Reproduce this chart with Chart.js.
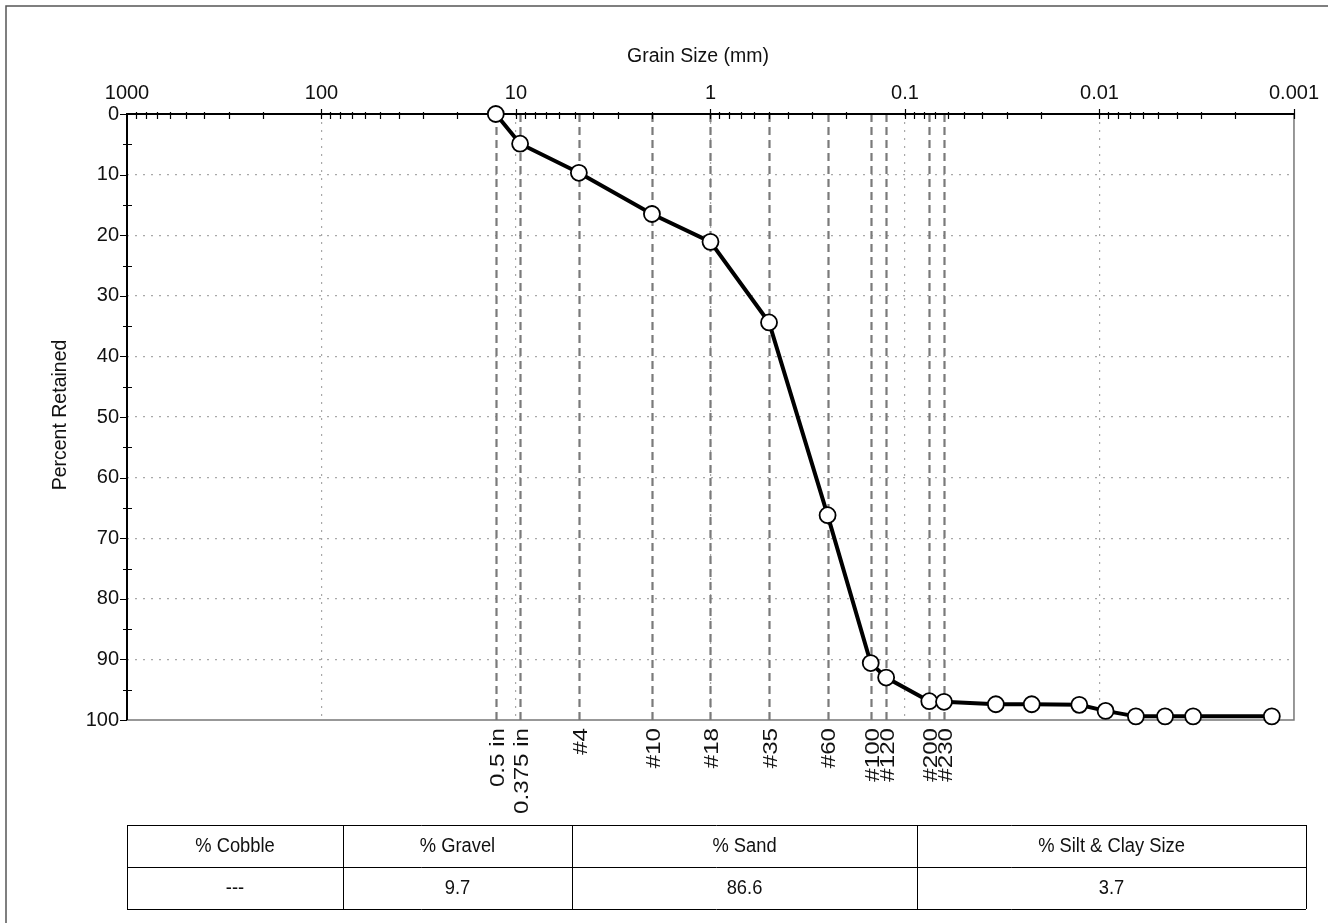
<!DOCTYPE html>
<html>
<head>
<meta charset="utf-8">
<script src="https://cdn.jsdelivr.net/npm/chart.js@4.4.1/dist/chart.umd.min.js"></script>
<style>
  html, body { margin: 0; padding: 0; background: #ffffff; }
  #wrap { position: relative; width: 1328px; height: 923px; }
</style>
</head>
<body>
<div id="wrap"><canvas id="grad" width="1328" height="923"></canvas></div>
<script>
// Grain size distribution: cumulative percent retained vs particle size (mm)
const grainSizes = [12.7, 9.525, 4.75, 2.0, 1.0, 0.5, 0.25, 0.15, 0.125, 0.075, 0.063,
                    0.0341, 0.0223, 0.0127, 0.0093, 0.0065, 0.0046, 0.0033, 0.0013];
const percentRetained = [0, 4.9, 9.7, 16.5, 21.1, 34.4, 66.2, 90.6, 93.0, 96.9, 97.0,
                         97.4, 97.4, 97.5, 98.5, 99.4, 99.4, 99.4, 99.4];

// Sieve openings marked with dashed lines
const sieveLabels = ['0.5 in', '0.375 in', '#4', '#10', '#18', '#35', '#60', '#100', '#120', '#200', '#230'];
const sieveSizes  = [12.7, 9.525, 4.75, 2.0, 1.0, 0.5, 0.25, 0.15, 0.125, 0.075, 0.063];

// Axis ticks
const xTickValues = [1000, 100, 10, 1, 0.1, 0.01, 0.001];
const xTickLabels = ['1000', '100', '10', '1', '0.1', '0.01', '0.001'];
const yTickValues = [0, 10, 20, 30, 40, 50, 60, 70, 80, 90, 100];

// Summary table
const fractionNames  = ['% Cobble', '% Gravel', '% Sand', '% Silt & Clay Size'];
const fractionValues = ['---', '9.7', '86.6', '3.7'];

const FONT = '"Liberation Sans", Arial, Helvetica, sans-serif';
const TXT = '#111111';

const points = grainSizes.map((s, i) => ({ x: s, y: percentRetained[i] }));

const decorations = {
  id: 'decorations',
  beforeDatasetsDraw(chart) {
    const { ctx, chartArea: a, scales: { x, y } } = chart;
    ctx.save();

    // sieve lines
    ctx.strokeStyle = '#7a7a7a';
    ctx.lineWidth = 2.2;
    ctx.setLineDash([8, 5]);
    sieveSizes.forEach(s => {
      const px = Math.round(x.getPixelForValue(s)) + 0.5;
      ctx.beginPath();
      ctx.moveTo(px, a.top);
      ctx.lineTo(px, a.bottom);
      ctx.stroke();
    });
    ctx.setLineDash([]);

    // plot frame: right and bottom in grey
    ctx.strokeStyle = '#777777';
    ctx.lineWidth = 1.5;
    ctx.beginPath();
    ctx.moveTo(a.right, a.top);
    ctx.lineTo(a.right, a.bottom);
    ctx.lineTo(a.left, a.bottom);
    ctx.stroke();

    // top and left axis lines
    ctx.strokeStyle = '#000000';
    ctx.lineWidth = 2;
    ctx.beginPath();
    ctx.moveTo(a.left, a.bottom);
    ctx.lineTo(a.left, a.top);
    ctx.lineTo(a.right, a.top);
    ctx.stroke();

    // log ticks on the top axis
    ctx.lineWidth = 1.2;
    ctx.beginPath();
    for (let e = -3; e < 3; e++) {
      for (let m = 1; m <= 9; m++) {
        const v = m * Math.pow(10, e);
        const px = Math.round(x.getPixelForValue(v)) + 0.5;
        if (m === 1) { ctx.moveTo(px, a.top - 5); ctx.lineTo(px, a.top + 5); }
        else { ctx.moveTo(px, a.top - 2); ctx.lineTo(px, a.top + 5); }
      }
    }
    const pEnd = Math.round(x.getPixelForValue(0.001)) + 0.5;
    ctx.moveTo(pEnd, a.top - 5); ctx.lineTo(pEnd, a.top + 5);
    ctx.stroke();

    // ticks on the left axis
    ctx.beginPath();
    for (let v = 0; v <= 100; v += 5) {
      const py = Math.round(y.getPixelForValue(v)) + 0.5;
      if (v % 10 === 0) { ctx.moveTo(a.left - 7, py); ctx.lineTo(a.left, py); }
      else { ctx.moveTo(a.left - 4, py); ctx.lineTo(a.left + 5, py); }
    }
    ctx.stroke();
    ctx.restore();
  },
  afterDraw(chart) {
    const { ctx, chartArea: a, scales: { x } } = chart;
    ctx.save();
    ctx.fillStyle = TXT;

    // sieve labels, rotated and slightly stretched along the text
    ctx.font = '21px ' + FONT;
    ctx.textAlign = 'right';
    ctx.textBaseline = 'middle';
    sieveSizes.forEach((s, i) => {
      const px = x.getPixelForValue(s) + 2;
      ctx.save();
      ctx.translate(px, a.bottom + 8);
      ctx.rotate(-Math.PI / 2);
      ctx.scale(1.15, 1);
      ctx.fillText(sieveLabels[i], 0, 0);
      ctx.restore();
    });

    // axis titles
    ctx.font = '19.5px ' + FONT;
    ctx.textAlign = 'center';
    ctx.textBaseline = 'middle';
    ctx.fillText('Grain Size (mm)', 698, 57);
    ctx.save();
    ctx.translate(61, 415);
    ctx.rotate(-Math.PI / 2);
    ctx.fillText('Percent Retained', 0, 0);
    ctx.restore();

    // summary table
    const cols = [127, 343, 572, 917, 1306];
    const rows = [825, 867, 909];
    ctx.strokeStyle = '#000000';
    ctx.lineWidth = 1;
    ctx.beginPath();
    rows.forEach(r => { ctx.moveTo(cols[0], r + 0.5); ctx.lineTo(cols[4], r + 0.5); });
    cols.forEach(c => { ctx.moveTo(c + 0.5, rows[0]); ctx.lineTo(c + 0.5, rows[2]); });
    ctx.stroke();
    ctx.font = '19.5px ' + FONT;
    for (let i = 0; i < 4; i++) {
      const cx = (cols[i] + cols[i + 1]) / 2;
      [[fractionNames[i], (rows[0] + rows[1]) / 2 + 1], [fractionValues[i], (rows[1] + rows[2]) / 2 + 1]]
        .forEach(([t, cy]) => {
          ctx.save();
          ctx.translate(cx, cy);
          ctx.scale(0.94, 1);
          ctx.fillText(t, 0, 0);
          ctx.restore();
        });
    }

    // outer frame
    ctx.strokeStyle = '#555555';
    ctx.lineWidth = 1.5;
    ctx.strokeRect(6, 6, 1340, 940);
    ctx.restore();
  }
};

new Chart(document.getElementById('grad'), {
  type: 'line',
  data: {
    datasets: [{
      data: points,
      borderColor: '#000000',
      borderWidth: 4,
      pointRadius: 8,
      pointBackgroundColor: '#ffffff',
      pointBorderColor: '#000000',
      pointBorderWidth: 1.8,
      tension: 0,
      clip: false
    }]
  },
  options: {
    responsive: false,
    animation: false,
    events: [],
    layout: { padding: { left: 0, top: 0, right: 33, bottom: 203 } },
    plugins: { legend: { display: false }, tooltip: { enabled: false } },
    scales: {
      x: {
        type: 'logarithmic',
        position: 'top',
        reverse: true,
        min: 0.001,
        max: 1000,
        afterBuildTicks(scale) { scale.ticks = xTickValues.map(v => ({ value: v })); },
        afterFit(scale) { scale.height = 114; },
        ticks: {
          autoSkip: false,
          maxRotation: 0,
          padding: 9,
          color: TXT,
          font: { family: FONT, size: 20 },
          callback(value) {
            const i = xTickValues.findIndex(v => Math.abs(Math.log10(v) - Math.log10(value)) < 1e-6);
            return i >= 0 ? xTickLabels[i] : '';
          }
        },
        grid: {
          drawTicks: false,
          lineWidth: 1.2,
          color: ctx => (ctx.tick && (ctx.tick.value === 1000 || ctx.tick.value === 0.001)) ? 'rgba(0,0,0,0)' : '#a8a8a8'
        },
        border: { display: false, dash: [2, 6] }
      },
      y: {
        type: 'linear',
        reverse: true,
        min: 0,
        max: 100,
        afterBuildTicks(scale) { scale.ticks = yTickValues.map(v => ({ value: v })); },
        afterFit(scale) { scale.width = 127; },
        ticks: {
          padding: 8,
          color: TXT,
          font: { family: FONT, size: 20 }
        },
        grid: {
          drawTicks: false,
          lineWidth: 1.2,
          color: ctx => (ctx.tick && (ctx.tick.value === 0 || ctx.tick.value === 100)) ? 'rgba(0,0,0,0)' : '#a8a8a8'
        },
        border: { display: false, dash: [2, 6] }
      }
    }
  },
  plugins: [decorations]
});
</script>
</body>
</html>
